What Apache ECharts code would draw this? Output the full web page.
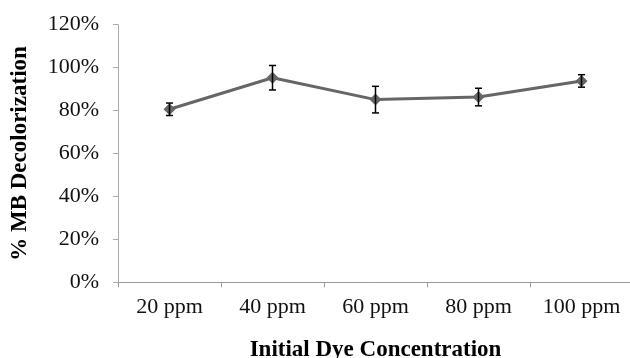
<!DOCTYPE html>
<html>
<head>
<meta charset="utf-8">
<script src="https://cdn.jsdelivr.net/npm/echarts@6/dist/echarts.min.js"></script>
<style>
  html, body { margin: 0; padding: 0; background: #fff; }
  #chart { width: 630px; height: 358px; }
</style>
</head>
<body>
<div id="chart"></div>
<script>
// data (%)
var categories = ['20 ppm', '40 ppm', '60 ppm', '80 ppm', '100 ppm']
var decolorization = [80.6, 95.3, 85.1, 86.3, 93.8]
var errors = [2.9, 5.7, 6.2, 4.1, 2.9]
var yTicks = [0, 20, 40, 60, 80, 100, 120]

var font = 'Liberation Serif, Times New Roman, serif'

var errData = decolorization.map(function (v, i) {
  return [i, v - errors[i], v + errors[i]]
})

var chart = echarts.init(document.getElementById('chart'))
chart.setOption({
  animation: false,
  grid: { left: 118, right: -3, top: 24.7, bottom: 75.7, outerBoundsMode: 'none', containLabel: false },
  xAxis: {
    type: 'category',
    data: categories,
    boundaryGap: true,
    name: 'Initial Dye Concentration',
    nameLocation: 'middle',
    nameGap: 56,
    nameTextStyle: { fontFamily: font, fontSize: 23, fontWeight: 'bold', color: '#000' },
    axisLine: { lineStyle: { color: '#999', width: 1 } },
    axisTick: { show: true, alignWithLabel: false, length: 5, lineStyle: { color: '#999' } },
    axisLabel: { fontFamily: font, fontSize: 22, color: '#111', margin: 14 }
  },
  yAxis: {
    type: 'value',
    min: yTicks[0],
    max: yTicks[yTicks.length - 1],
    interval: 20,
    name: '% MB Decolorization',
    nameLocation: 'middle',
    nameGap: 86,
    nameTextStyle: { fontFamily: font, fontSize: 23, fontWeight: 'bold', color: '#000' },
    axisLine: { show: true, lineStyle: { color: '#aaa', width: 1 } },
    axisTick: { show: true, length: 5, lineStyle: { color: '#aaa' } },
    splitLine: { show: false },
    axisLabel: {
      fontFamily: font, fontSize: 22, color: '#111', margin: 19,
      formatter: function (v) { return v + '%' }
    }
  },
  series: [
    {
      type: 'line',
      data: decolorization,
      symbol: 'diamond',
      symbolSize: 12,
      lineStyle: { color: '#666', width: 3 },
      itemStyle: { color: '#666' },
      z: 2
    },
    {
      type: 'custom',
      data: errData,
      z: 3,
      renderItem: function (params, api) {
        var lo = api.coord([api.value(0), api.value(1)])
        var hi = api.coord([api.value(0), api.value(2)])
        var cap = 3.5
        var style = { stroke: '#000', lineWidth: 1.5 }
        return {
          type: 'group',
          children: [
            { type: 'line', shape: { x1: hi[0], y1: hi[1], x2: lo[0], y2: lo[1] }, style: style },
            { type: 'line', shape: { x1: hi[0] - cap, y1: hi[1], x2: hi[0] + cap, y2: hi[1] }, style: style },
            { type: 'line', shape: { x1: lo[0] - cap, y1: lo[1], x2: lo[0] + cap, y2: lo[1] }, style: style }
          ]
        }
      }
    }
  ]
})
</script>
</body>
</html>
